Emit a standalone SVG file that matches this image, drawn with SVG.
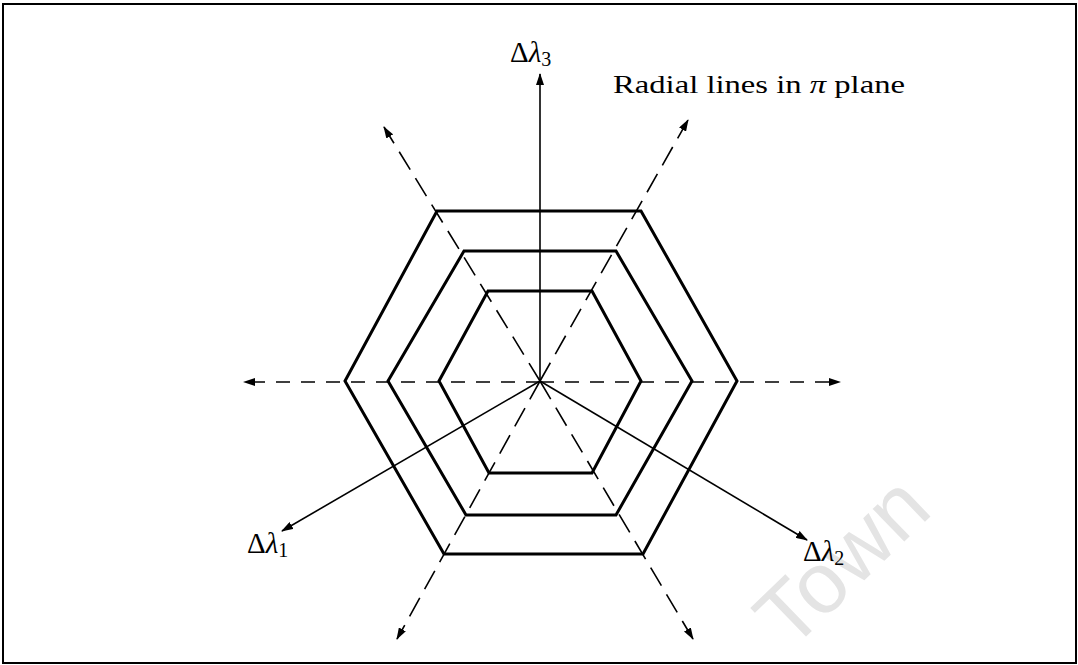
<svg xmlns="http://www.w3.org/2000/svg" width="1078" height="665" viewBox="0 0 1078 665">
<style>
.hex{fill:none;stroke:#000;stroke-width:3;stroke-linejoin:miter}
.ax{stroke:#000;stroke-width:1.6;fill:none}
.dh{stroke:#000;stroke-width:1.6;fill:none;stroke-dasharray:14 11}
.dd{stroke:#000;stroke-width:1.6;fill:none;stroke-dasharray:21 10}
.lbl{font-family:"Liberation Serif","DejaVu Serif",serif;font-size:29px;fill:#000}
.ttl{font-family:"Liberation Serif","DejaVu Serif",serif;font-size:26px;fill:#000}
.sub{font-size:20px}
.it{font-style:italic}
</style>
<defs>
<marker id="ah" viewBox="0 0 12 8" refX="11" refY="4" markerWidth="12" markerHeight="8" markerUnits="userSpaceOnUse" orient="auto">
<path d="M0,0 L12,4 L0,8 Z" fill="#000"/>
</marker>
</defs>
<rect x="3" y="4" width="1073" height="659" fill="#fff" stroke="#000" stroke-width="2"/>
<text x="790" y="652" transform="rotate(-44 790 652)" font-family="Liberation Sans, Arial, sans-serif" font-size="86" fill="#e4e4e4">Town</text>
<g id="connectors">
<line class="ax" x1="540" y1="381" x2="540" y2="74" marker-end="url(#ah)"/>
<line class="ax" x1="540" y1="381" x2="282" y2="531" marker-end="url(#ah)"/>
<line class="ax" x1="540" y1="381" x2="807" y2="540" marker-end="url(#ah)"/>
<line class="dh" x1="540" y1="382" x2="244" y2="382" marker-end="url(#ah)"/>
<line class="dh" x1="540" y1="382" x2="840" y2="382" marker-end="url(#ah)"/>
<line class="dd" x1="540" y1="381" x2="688" y2="120" marker-end="url(#ah)"/>
<line class="dd" x1="540" y1="381" x2="384" y2="127" marker-end="url(#ah)"/>
<line class="dd" x1="540" y1="381" x2="693" y2="639" marker-end="url(#ah)"/>
<line class="dd" x1="540" y1="381" x2="397" y2="639" marker-end="url(#ah)"/>
</g>
<g id="hex-inner"><polygon class="hex" points="439,381 488,291 592,291 641,381 592,473 489,473"/></g>
<g id="hex-middle"><polygon class="hex" points="388,381 464,251 616,251 692,381 616,515 466,515"/></g>
<g id="hex-outer"><polygon class="hex" points="345,381 437,211 641,211 737,381 643,554 444,554"/></g>
<g id="label-l3"><text class="lbl" x="510" y="62">Δ<tspan class="it">λ</tspan><tspan class="sub" dy="4">3</tspan></text></g>
<g id="label-l1"><text class="lbl" x="247" y="553">Δ<tspan class="it">λ</tspan><tspan class="sub" dy="4">1</tspan></text></g>
<g id="label-l2"><text class="lbl" x="803" y="561">Δ<tspan class="it">λ</tspan><tspan class="sub" dy="4">2</tspan></text></g>
<g id="title"><text class="ttl" x="613" y="93" textLength="292" lengthAdjust="spacingAndGlyphs">Radial lines in <tspan class="it">π</tspan> plane</text></g>
</svg>
